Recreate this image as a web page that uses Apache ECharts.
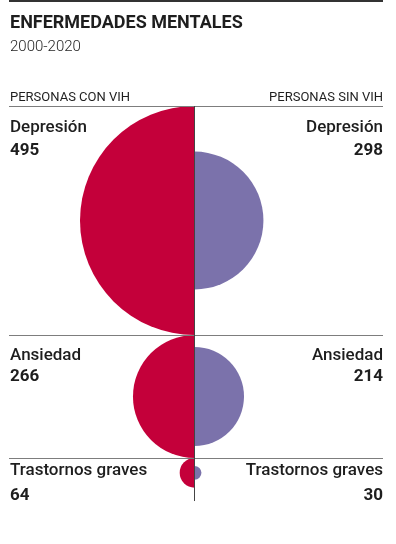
<!DOCTYPE html>
<html><head><meta charset="utf-8">
<script src="https://cdn.jsdelivr.net/npm/echarts@6/dist/echarts.min.js"></script>
<style>html,body{margin:0;padding:0;background:#fff}#c{width:396px;height:544px}</style>
</head><body><div id="c"></div>
<script>
const categories = ['Depresión', 'Ansiedad', 'Trastornos graves'];
const conVIH = [495, 266, 64];
const sinVIH = [298, 214, 30];
const titleText = 'ENFERMEDADES MENTALES';
const subtitleText = '2000-2020';
const leftHeader = 'PERSONAS CON VIH';
const rightHeader = 'PERSONAS SIN VIH';

const RED = '#c4003a', PURPLE = '#7b72ab', INK = '#1e1e1e', RULE = '#7d7d7d';
const K = 0.2313;           // px per unit
const CX = 194.5, TOP = 106, X0 = 9, X1 = 383;
const labelDy = [[22, 45], [21, 42], [13, 38]];
const FONT = 'Roboto, "Liberation Sans", sans-serif';

let acc = 0;
const rows = categories.map((c, i) => { const top = acc; acc += 2 * conVIH[i]; return [top, conVIH[i], sinVIH[i], i]; });
const last = categories.length - 1;

function renderItem(params, api) {
  const i = api.value(3);
  const top = api.value(0), a = api.value(1), b = api.value(2);
  const c = api.coord([0, top + a]);
  const ra = api.size([a, 0])[0];
  const rb = api.size([b, 0])[0];
  const yTop = api.coord([0, top])[1];
  const yEnd = i === last ? yTop + 43 : api.coord([0, top + 2 * a])[1];
  const dy = labelDy[i];
  const txt = (x, y, s, align, weight) => ({
    type: 'text', x: x, y: y,
    style: { text: s, fontFamily: FONT, fontSize: 17, fontWeight: weight, fill: INK, align: align, verticalAlign: 'middle' }
  });
  return {
    type: 'group',
    children: [
      { type: 'sector', shape: { cx: c[0], cy: c[1], r0: 0, r: ra, startAngle: Math.PI / 2, endAngle: Math.PI * 1.5, clockwise: true }, style: { fill: RED } },
      { type: 'sector', shape: { cx: c[0], cy: c[1], r0: 0, r: rb, startAngle: -Math.PI / 2, endAngle: Math.PI / 2, clockwise: true }, style: { fill: PURPLE } },
      { type: 'line', shape: { x1: X0, y1: Math.round(yTop) + 0.5, x2: X1, y2: Math.round(yTop) + 0.5 }, style: { stroke: RULE, lineWidth: 1 } },
      { type: 'line', shape: { x1: Math.round(c[0]) + 0.5, y1: yTop, x2: Math.round(c[0]) + 0.5, y2: yEnd }, style: { stroke: '#444', lineWidth: 1 } },
      txt(X0 + 1, yTop + dy[0], categories[i], 'left', 500),
      txt(X0 + 1, yTop + dy[1], String(conVIH[i]), 'left', 'bold'),
      txt(X1, yTop + dy[0], categories[i], 'right', 500),
      txt(X1, yTop + dy[1], String(sinVIH[i]), 'right', 'bold')
    ]
  };
}

const chart = echarts.init(document.getElementById('c'), null, { renderer: 'canvas' });
chart.setOption({
  animation: false,
  backgroundColor: '#fff',
  grid: { left: CX - 800 * K, top: TOP, width: 1600 * K, height: 1800 * K },
  xAxis: { type: 'value', min: -800, max: 800, show: false },
  yAxis: { type: 'value', min: 0, max: 1800, inverse: true, show: false },
  graphic: [
    { type: 'rect', shape: { x: X0, y: 0, width: X1 - X0, height: 2 }, style: { fill: '#333' } },
    { type: 'text', x: X0 + 1, y: 23.5, style: { text: titleText, fontFamily: FONT, fontSize: 18, fontWeight: 'bold', fill: INK, verticalAlign: 'middle' } },
    { type: 'text', x: X0 + 1, y: 47.5, style: { text: subtitleText, fontFamily: FONT, fontSize: 15, fontWeight: 300, fill: INK, verticalAlign: 'middle' } },
    { type: 'text', x: X0 + 1, y: 97.5, style: { text: leftHeader, fontFamily: FONT, fontSize: 13, fill: INK, verticalAlign: 'middle' } },
    { type: 'text', x: X1, y: 97.5, style: { text: rightHeader, fontFamily: FONT, fontSize: 13, fill: INK, align: 'right', verticalAlign: 'middle' } }
  ],
  series: [{
    type: 'custom',
    coordinateSystem: 'cartesian2d',
    renderItem: renderItem,
    data: rows,
    clip: false
  }]
});
</script>
</body></html>
